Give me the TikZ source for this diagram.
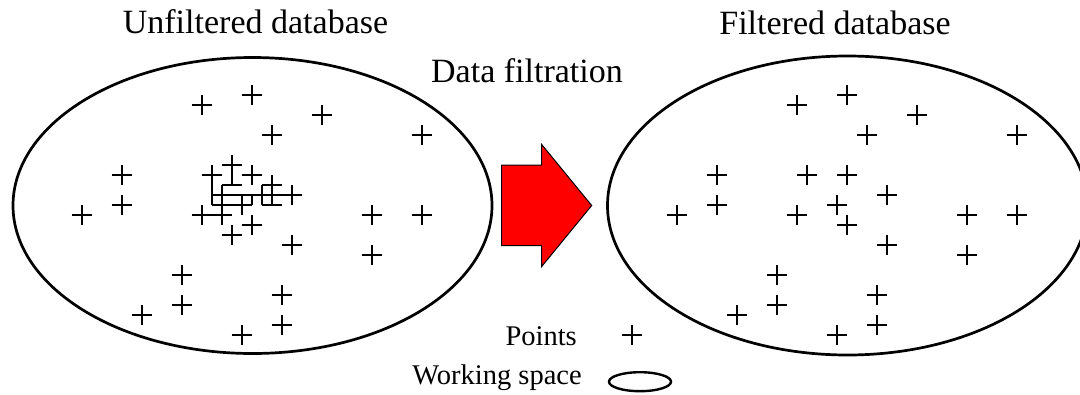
\documentclass[tikz,border=0pt]{standalone}
\usepackage{fontspec}
\setmainfont{Liberation Serif}
\begin{document}
\begin{tikzpicture}[x=1pt,y=-1pt,
  ptline/.style={line width=2.2pt,line cap=butt},
  space/.style={line width=2.7pt},
  title/.style={anchor=base,inner sep=0pt,font=\fontsize{34}{40}\selectfont},
  legend/.style={anchor=base east,inner sep=0pt,font=\fontsize{28.5}{34}\selectfont},
  bigarrow/.style={fill=red,draw=black,line width=1pt,line join=miter},
  plus/.pic={\draw[ptline] (-10,0) -- (10,0) (0,-10) -- (0,10);}
]
\useasboundingbox (0,0) rectangle (1080,394);
\clip (0,0) rectangle (1080,394);

% titles
\node[title] (tleft) at (255.5,33.5) {Unfiltered database};
\node[title] (tright) at (835,34.5) {Filtered database};
\node[title] (tfilt) at (527,82) {Data filtration};

% working spaces
\draw[space] (252.5,205.5) ellipse [x radius=239.5, y radius=148];
\draw[space] (847.5,205.5) ellipse [x radius=240, y radius=149.5];

% points, unfiltered
\foreach \p in {(201.7,105),(251.7,95),(321.7,115),(271.7,135),(421.7,135),
  (121.7,175),(121.7,205),(81.7,215),(371.7,215),(421.7,215),(371.7,255),
  (291.7,245),(291.7,195),(181.7,275),(181.7,305),(141.7,315),(281.7,295),
  (281.7,325),(241.7,335),(231.7,235),(251.7,225),(201.7,215),(221.7,215)}
  \pic at \p {plus};
% dense cluster
\draw[ptline]
  (221.7,165) -- (241.7,165)
  (201.7,175) -- (221.7,175) (241.7,175) -- (261.7,175)
  (221.7,185) -- (241.7,185) (261.7,185) -- (281.7,185)
  (211.7,195) -- (281.7,195)
  (211.7,205) -- (251.7,205) (261.7,205) -- (281.7,205)
  (231.7,155) -- (231.7,185)
  (211.7,165) -- (211.7,205)
  (251.7,165) -- (251.7,185) (251.7,195) -- (251.7,205)
  (221.7,185) -- (221.7,205)
  (241.7,195) -- (241.7,215)
  (261.7,185) -- (261.7,205)
  (271.7,175) -- (271.7,205);

% points, filtered
\foreach \p in {(797.3,105),(847.3,95),(917.3,115),(867.3,135),(1017.3,135),
  (717.3,175),(717.3,205),(677.3,215),(807.3,175),(847.3,175),(887.3,195),
  (797.3,215),(837.3,205),(847.3,225),(967.3,215),(1017.3,215),(967.3,255),
  (887.3,245),(777.3,275),(777.3,305),(737.3,315),(877.3,295),(877.3,325),
  (837.3,335)}
  \pic at \p {plus};

% arrow
\draw[bigarrow] (501.7,165) -- (541.7,165) -- (541.7,144.5) -- (591.7,205.5)
  -- (541.7,266.5) -- (541.7,245.5) -- (501.7,245.5) -- cycle;

% legend
\node[legend] (lpts) at (577,345) {Points};
\pic at (631.7,335) {plus};
\node[legend] (lspace) at (582,384) {Working space};
\draw[line width=2.4pt] (640,381.7) ellipse [x radius=31, y radius=9.5];
\end{tikzpicture}
\end{document}
